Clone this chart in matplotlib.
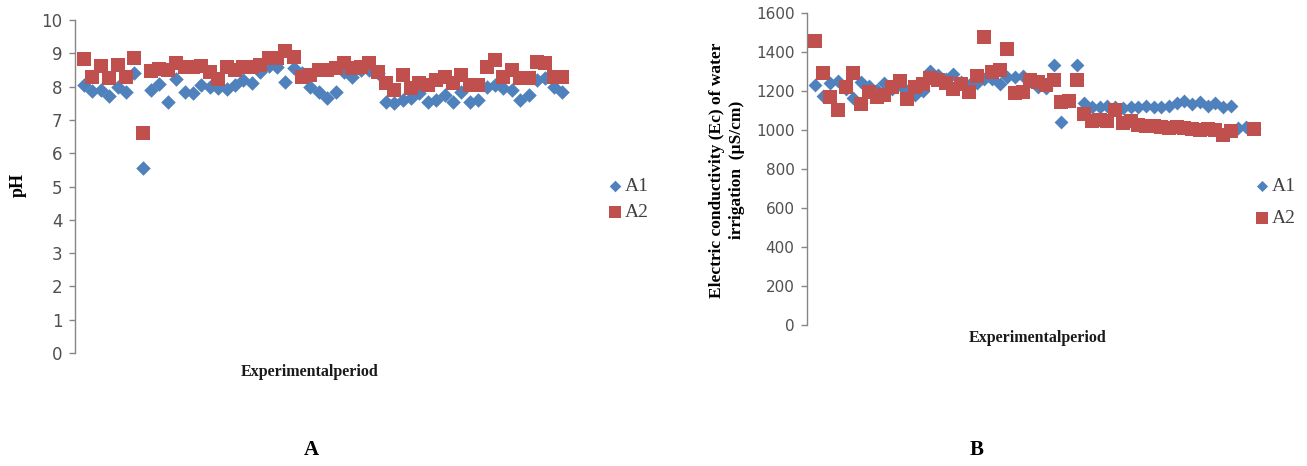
import matplotlib
matplotlib.use("Agg")
import matplotlib.pyplot as plt
import numpy as np

# pH readings over the experimental period
ph_a1 = [8.05, 7.88, 7.9, 7.72, 8.0, 7.85, 8.42, 5.55, 7.9, 8.08,
         7.55, 8.22, 7.85, 7.8, 8.05, 8.0, 7.95, 7.92, 8.05, 8.2,
         8.1, 8.45, 8.62, 8.6, 8.15, 8.55, 8.4, 8.0, 7.85, 7.65,
         7.85, 8.45, 8.3, 8.5, 8.5, 8.4, 7.55, 7.5, 7.6, 7.65,
         7.8, 7.55, 7.6, 7.75, 7.55, 7.85, 7.55, 7.6, 8.0, 8.05,
         7.95, 7.9, 7.6, 7.75, 8.2, 8.25, 8.0, 7.85]
ph_a2 = [8.82, 8.3, 8.62, 8.25, 8.65, 8.3, 8.85, 6.62, 8.48, 8.52,
         8.5, 8.7, 8.6, 8.6, 8.62, 8.45, 8.22, 8.6, 8.5, 8.6,
         8.6, 8.65, 8.85, 8.85, 9.08, 8.9, 8.3, 8.35, 8.5, 8.5,
         8.55, 8.7, 8.55, 8.6, 8.7, 8.45, 8.1, 7.9, 8.35, 7.95,
         8.1, 8.05, 8.2, 8.3, 8.1, 8.35, 8.05, 8.05, 8.6, 8.8,
         8.3, 8.5, 8.25, 8.25, 8.75, 8.7, 8.3, 8.3]

# electric conductivity readings (uS/cm)
ec_a1 = [1230, 1175, 1240, 1250, 1210, 1165, 1245, 1225, 1205, 1240,
         1210, 1230, 1200, 1180, 1200, 1305, 1285, 1265, 1290, 1245,
         1230, 1240, 1260, 1265, 1235, 1275, 1275, 1280, 1250, 1220,
         1215, 1335, 1040, 1150, 1335, 1140, 1120, 1120, 1125, 1120,
         1115, 1120, 1120, 1125, 1120, 1120, 1125, 1140, 1150, 1135,
         1145, 1125, 1140, 1120, 1125, 1010, 1015, 1010]
ec_a2 = [1459, 1294, 1168, 1103, 1223, 1294, 1134, 1197, 1168, 1180,
         1223, 1253, 1158, 1223, 1236, 1270, 1257, 1243, 1209, 1236,
         1197, 1277, 1476, 1300, 1308, 1415, 1192, 1197, 1257, 1248,
         1230, 1255, 1145, 1150, 1255, 1085, 1045, 1050, 1045, 1105,
         1035, 1045, 1025, 1020, 1020, 1015, 1010, 1015, 1010, 1005,
         1000, 1005, 1000, 975, 995, np.nan, np.nan, 1005]

series_names = ["A1", "A2"]
ph_ticks = list(range(0, 11))
ec_ticks = list(range(0, 1601, 200))

BLUE = "#4F81BD"
RED = "#C0504D"
AXIS_GRAY = "#868686"
TEXT_GRAY = "#404040"
SERIF = ["Liberation Serif", "DejaVu Serif"]

fig = plt.figure(figsize=(13.07, 4.66), dpi=100)


def style_axis(ax, ticks, tick_size):
    for side in ["top", "right", "bottom"]:
        ax.spines[side].set_visible(False)
    ax.spines["left"].set_color(AXIS_GRAY)
    ax.spines["left"].set_linewidth(1.0)
    ax.set_yticks(ticks)
    ax.set_xticks([])
    ax.tick_params(axis="y", direction="out", length=4, width=1,
                   color=AXIS_GRAY, labelcolor="#505050",
                   labelsize=tick_size, pad=5)


# ---- panel A: pH ----
ax1 = fig.add_axes([0.0574, 0.2425, 0.3826, 0.7145])
x1 = np.arange(len(ph_a1))
ax1.scatter(x1, ph_a1, marker="D", s=55, color=BLUE, linewidths=0,
            label=series_names[0], zorder=3)
ax1.scatter(x1, ph_a2, marker="s", s=110, color=RED, linewidths=0,
            label=series_names[1], zorder=4)
ax1.set_xlim(-1.07, 58.55)
ax1.set_ylim(0, 10)
style_axis(ax1, ph_ticks, 12)
ax1.legend(loc="center left", bbox_to_anchor=(588 / 1307, 0.573),
           bbox_transform=fig.transFigure, frameon=False,
           prop={"family": SERIF, "size": 14}, labelcolor=TEXT_GRAY,
           handletextpad=0.0, labelspacing=0.45, handlelength=1.0,
           markerscale=0.8)

fig.text(18 / 1307, 0.603, "pH", rotation=90, ha="center", va="center",
         family=SERIF, weight="bold", size=13)
fig.text(0.2372, 0.2017, "Experimentalperiod", ha="center", va="center",
         family=SERIF, weight="bold", size=11.5, color="#1a1a1a")
fig.text(0.238, 0.0343, "A", ha="center", va="center",
         family=SERIF, weight="bold", size=15)

# ---- panel B: electric conductivity ----
ax2 = fig.add_axes([0.6174, 0.3026, 0.348, 0.669])
x2 = np.arange(len(ec_a1))
ax2.scatter(x2, ec_a1, marker="D", s=50, color=BLUE, linewidths=0,
            label=series_names[0], zorder=3)
ax2.scatter(x2, ec_a2, marker="s", s=100, color=RED, linewidths=0,
            label=series_names[1], zorder=4)
ax2.set_xlim(-1.04, 58.05)
ax2.set_ylim(0, 1600)
style_axis(ax2, ec_ticks, 11)
ax2.legend(loc="center left", bbox_to_anchor=(1235 / 1307, 0.5665),
           bbox_transform=fig.transFigure, frameon=False,
           prop={"family": SERIF, "size": 14}, labelcolor=TEXT_GRAY,
           handletextpad=0.0, labelspacing=0.75, handlelength=1.0,
           markerscale=0.8)

fig.text(727 / 1307, 0.635,
         "Electric conductivity (Ec) of water\nirrigation  (\u00b5S/cm)",
         rotation=90, ha="center", va="center", multialignment="center",
         family=SERIF, weight="bold", size=12.5, linespacing=1.35)
fig.text(0.794, 0.2747, "Experimentalperiod", ha="center", va="center",
         family=SERIF, weight="bold", size=11.5, color="#1a1a1a")
fig.text(0.7475, 0.0343, "B", ha="center", va="center",
         family=SERIF, weight="bold", size=15)

fig.savefig("out.png", dpi=100, facecolor="white")
